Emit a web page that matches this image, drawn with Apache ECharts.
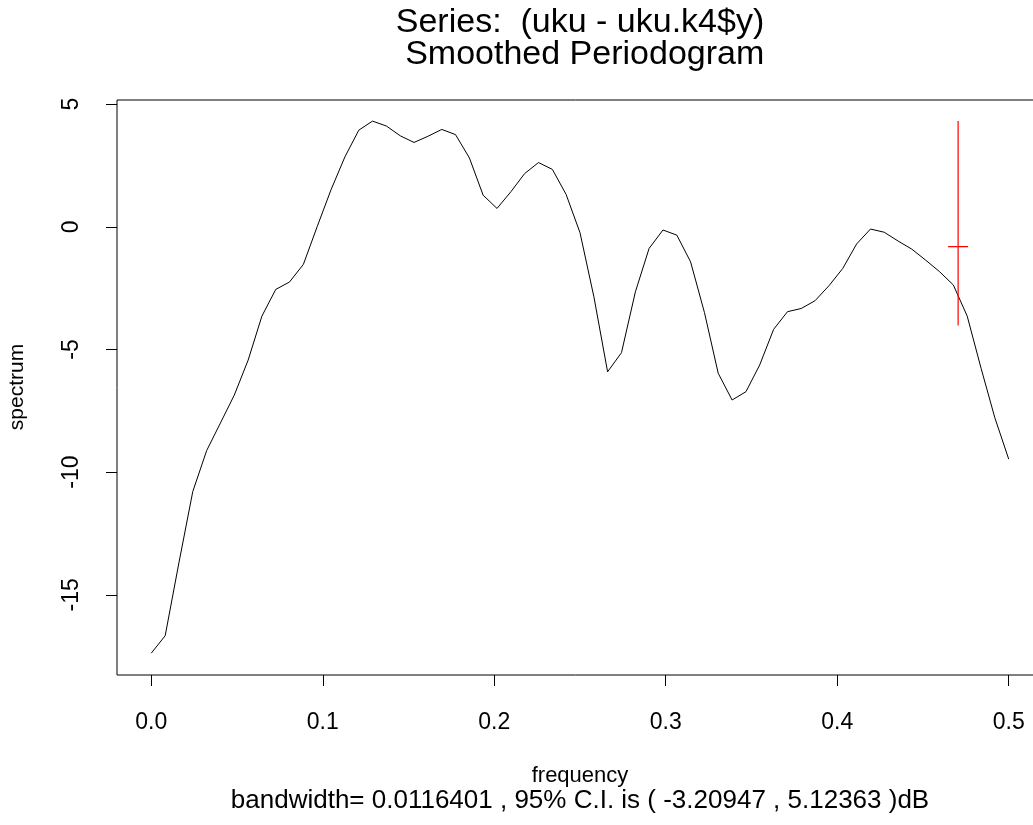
<!DOCTYPE html>
<html>
<head>
<meta charset="utf-8">
<script src="https://cdn.jsdelivr.net/npm/echarts@6/dist/echarts.min.js"></script>
<style>
html,body{margin:0;padding:0;background:#fff;}
#chart{width:1033px;height:825px;}
</style>
</head>
<body>
<div id="chart"></div>
<script>
var frequency = [0, 0.0081, 0.0161, 0.0242, 0.0323, 0.0403, 0.0484, 0.0565, 0.0645, 0.0726, 0.0806, 0.0887, 0.0968, 0.1048, 0.1129, 0.1210, 0.1290, 0.1371, 0.1452, 0.1532, 0.1613, 0.1694, 0.1774, 0.1855, 0.1935, 0.2016, 0.2097, 0.2177, 0.2258, 0.2339, 0.2419, 0.2500, 0.2581, 0.2661, 0.2742, 0.2823, 0.2903, 0.2984, 0.3065, 0.3145, 0.3226, 0.3306, 0.3387, 0.3468, 0.3548, 0.3629, 0.3710, 0.3790, 0.3871, 0.3952, 0.4032, 0.4113, 0.4194, 0.4274, 0.4355, 0.4435, 0.4516, 0.4597, 0.4677, 0.4758, 0.4839, 0.4919, 0.5000];
var spectrumDb = [-17.38, -16.67, -13.7, -10.79, -9.12, -8.0, -6.86, -5.43, -3.64, -2.55, -2.25, -1.53, 0.02, 1.51, 2.85, 3.94, 4.31, 4.11, 3.71, 3.44, 3.69, 3.97, 3.76, 2.81, 1.29, 0.75, 1.43, 2.17, 2.62, 2.34, 1.32, -0.24, -2.85, -5.91, -5.13, -2.65, -0.88, -0.13, -0.34, -1.43, -3.50, -5.97, -7.06, -6.72, -5.63, -4.18, -3.46, -3.33, -3.01, -2.40, -1.70, -0.70, -0.09, -0.22, -0.58, -0.91, -1.36, -1.83, -2.37, -3.64, -5.77, -7.78, -9.47];
var xTicks = [0, 0.1, 0.2, 0.3, 0.4, 0.5];
var yTicks = [-15, -10, -5, 0, 5];
var ciFreq = [0.4705];
var ciCenter = [-0.81];
var ciLow = [-4.02];
var ciHigh = [4.31];
var bandwidth = [0.0116401];
var titleLines = ["Series:  (uku - uku.k4$y)", " Smoothed Periodogram"];
var xAxisTitle = "frequency";
var subTitle = "bandwidth= 0.0116401 , 95% C.I. is ( -3.20947 , 5.12363 )dB";
var yAxisTitle = "spectrum";

var FONT = "'Liberation Sans', Arial, Helvetica, sans-serif";
var chart = echarts.init(document.getElementById('chart'), null, {renderer: 'canvas'});

var lineData = frequency.map(function (f, i) { return [f, spectrumDb[i]]; });
var ciVert = [[ciFreq[0], ciLow[0]], [ciFreq[0], ciHigh[0]]];
var ciHorz = [[ciFreq[0] - bandwidth[0] / 2, ciCenter[0]], [ciFreq[0] + bandwidth[0] / 2, ciCenter[0]]];

function txt(text, x, y, size, rot) {
  return {
    type: 'text', x: x, y: y, rotation: rot || 0, silent: true,
    style: {text: text, fill: '#000', font: size + 'px ' + FONT,
      align: 'center', verticalAlign: 'middle', textAlign: 'center', textVerticalAlign: 'middle'}
  };
}

chart.setOption({
  backgroundColor: '#fff',
  animation: false,
  grid: {left: 117, top: 100, width: 926, height: 575, show: true, borderColor: '#000', borderWidth: 1,
    backgroundColor: 'transparent', containLabel: false, outerBoundsMode: 'none'},
  xAxis: {
    type: 'value', min: -0.02, max: 0.52,
    axisLine: {show: false, onZero: false},
    splitLine: {show: false},
    axisTick: {show: true, inside: false, length: 11, customValues: xTicks, lineStyle: {color: '#000', width: 1}},
    axisLabel: {show: true, customValues: xTicks, margin: 36, color: '#000', fontSize: 23, fontFamily: FONT,
      formatter: function (v) { return v.toFixed(1); }}
  },
  yAxis: {
    type: 'value', min: -18.27, max: 5.17,
    axisLine: {show: false, onZero: false},
    splitLine: {show: false},
    axisTick: {show: true, inside: false, length: 11, customValues: yTicks, lineStyle: {color: '#000', width: 1}},
    axisLabel: {show: true, customValues: yTicks, rotate: 90, margin: 34, color: '#000', fontSize: 23, fontFamily: FONT,
      formatter: function (v) { return String(v); }}
  },
  series: [
    {type: 'line', data: lineData, symbol: 'none', lineStyle: {color: '#000', width: 1}, silent: true, clip: true},
    {type: 'line', data: ciVert, symbol: 'none', lineStyle: {color: '#ff0000', width: 1.2}, silent: true},
    {type: 'line', data: ciHorz, symbol: 'none', lineStyle: {color: '#ff0000', width: 1.2}, silent: true}
  ],
  graphic: [
    txt(titleLines[0], 580, 23, 34),
    txt(titleLines[1], 580, 55, 34),
    txt(xAxisTitle, 580, 776, 22),
    txt(subTitle, 580, 801, 26),
    txt(yAxisTitle, 17, 387, 21, Math.PI / 2)
  ]
});
</script>
</body>
</html>
